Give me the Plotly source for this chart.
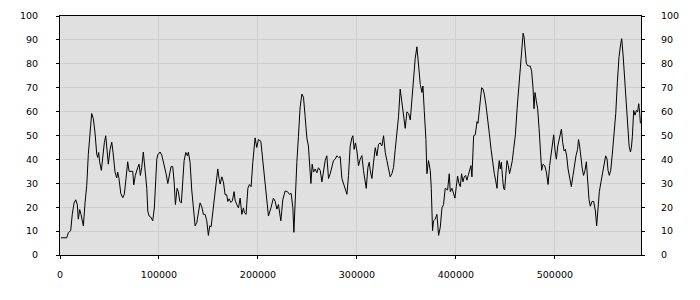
import plotly.graph_objects as go

x_vals = [
    1000, 6800, 8400, 10800, 12400, 14200, 15900, 17500, 18500, 19900, 21200, 23600, 25300, 27000, 28600,
    30300, 32000, 33700, 35400, 37100, 38100, 39100, 40100, 41800, 43200, 44800, 46200, 47500, 48800,
    50600, 52300, 53600, 55600, 57300, 58300, 59600, 61400, 63400, 65000, 66700, 68400, 69800, 73500,
    74500, 76100, 78600, 79900, 81200, 82600, 84200, 85900, 87700, 88700, 90000, 91700, 93700, 95300,
    96800, 97800, 98800, 101100, 102800, 105400, 107200, 108900, 110500, 112200, 113900, 115300, 116600,
    118300, 119600, 121000, 122600, 124000, 125400, 127100, 128700, 129700, 131400, 133100, 134800,
    136500, 138200, 139800, 141500, 143300, 144900, 146600, 148300, 149900, 151300, 152700, 154400,
    156000, 157700, 159400, 160700, 161800, 163500, 165100, 166800, 168500, 169500, 170900, 172600,
    174200, 175900, 176900, 178600, 180300, 182000, 183700, 185300, 186300, 188000, 189800, 191400,
    193100, 194800, 197100, 198800, 200500, 202900, 205000, 207300, 209000, 210600, 213100, 215600,
    217400, 219100, 220700, 223100, 225100, 227500, 229800, 231800, 233500, 235300, 236300, 237600,
    239300, 240900, 242600, 244400, 246000, 247700, 249400, 251000, 252800, 253500, 254800, 256100,
    257800, 259500, 261100, 262900, 264600, 266200, 267900, 269600, 271300, 273000, 274700, 276300,
    278000, 279700, 281400, 283100, 284800, 286500, 288100, 289900, 291500, 293200, 294900, 295900,
    297200, 298500, 300000, 301600, 303300, 305000, 306600, 308400, 309400, 311100, 312400, 313400,
    315100, 316800, 318500, 320200, 321800, 323500, 325200, 326900, 328600, 330300, 331900, 333600,
    335300, 337000, 338700, 340400, 342000, 343700, 345400, 347100, 348800, 350500, 352200, 353900,
    355600, 357300, 358900, 360600, 362300, 364000, 365700, 366700, 368000, 369700, 370700, 372300,
    374100, 375100, 376400, 377400, 379100, 380800, 382500, 384200, 385900, 387500, 389200, 391600,
    393300, 394300, 396000, 397600, 399000, 400400, 401700, 403100, 404400, 405700, 407100, 408400,
    409800, 411100, 412500, 413800, 415200, 416200, 417200, 417900, 419600, 421300, 422300, 423300,
    424600, 426000, 427400, 428700, 430400, 432000, 433700, 435500, 437100, 438800, 440100, 441500,
    442500, 443800, 444800, 445900, 447200, 448200, 449200, 450600, 451600, 452900, 454200, 455600,
    457000, 458300, 460100, 461800, 463400, 465100, 466900, 467900, 468900, 469800, 471100, 472500,
    475200, 476500, 477900, 478900, 479900, 481200, 482600, 484000, 485300, 486600, 488000, 489700,
    491400, 493100, 494700, 496400, 497800, 498800, 500200, 501500, 502900, 504200, 505500, 506600,
    507900, 509300, 510600, 511900, 513300, 514900, 516600, 518300, 519600, 521300, 522900, 523900,
    525000, 526400, 527700, 529000, 530400, 531800, 533100, 534500, 535800, 537500, 539200, 540900,
    542200, 543600, 544900, 546600, 548200, 549900, 551300, 552700, 553700, 555000, 556400, 558000,
    559700, 561500, 563100, 564800, 566500, 567500, 568900, 570300, 571900, 573300, 575000, 576300,
    577300, 578300, 579600, 581000, 582300, 583600, 584700, 585700, 586400,
]

y_vals = [
    7.2, 7.2, 9.3, 10.2, 17, 21.8, 23.1, 21, 15, 19, 17, 12.2, 21.8, 29, 42,
    51.7, 59.2, 57, 51, 42.2, 40.8, 42.9, 38.8, 35.4, 42.2, 47, 49.9, 42.2, 38,
    44.2, 47.2, 42.9, 34.7, 32.2, 34.7, 32, 25.8, 24, 25.4, 32, 39, 35, 35,
    29.3, 33.3, 36.7, 38, 33.3, 36.7, 43.1, 36.7, 27.9, 18.4, 16.3, 15.9, 14.3, 19.7,
    32, 40.1, 41.9, 43.1, 41.8, 37.4, 34, 29.9, 32.7, 37, 37, 30.6, 21.1,
    27.9, 26.5, 22.4, 21.8, 32.7, 39.5, 42.9, 41.5, 43, 38.8, 27.2, 18.4,
    12.2, 13.6, 17, 21.8, 20.1, 17, 17, 14.3, 8.2, 12.2, 11.8, 17.7,
    25.4, 29.9, 36, 32, 29.7, 32.7, 30.6, 25.2, 25.2, 22.4, 23.5, 22,
    22.7, 26.5, 23, 21.1, 19.7, 23.8, 17, 19.7, 17.7, 17, 27.9, 29.5,
    28.6, 38.8, 49, 45, 48.3, 47.6, 38.8, 29.3, 23.8, 16.3, 19.7, 23.8,
    22.4, 19.2, 21.1, 14.3, 23.1, 26.8, 26.5, 25.4, 25.8, 19.7, 9.5, 23.8,
    38.8, 49.7, 61.9, 67.3, 66, 57.8, 49, 45.6, 33.3, 29.9, 38, 34.7,
    36, 34.4, 36.5, 35.4, 30.6, 36, 39.5, 41.5, 32, 34, 37.4, 39.5,
    40.1, 41.5, 40.8, 41.2, 32, 29.9, 27.9, 25.4, 33.3, 45.6, 49, 49.9,
    44.2, 46.9, 43.5, 37.4, 40.1, 41.6, 35.4, 31.3, 27.9, 36.7, 38.8, 35.4,
    32, 38.8, 44.9, 41.5, 46.3, 46.9, 45.6, 49.9, 42.9, 39.5, 36, 32.7,
    34, 36.7, 44.2, 50.3, 57.8, 69.4, 63.3, 59.2, 53, 59.9, 59.2, 56.5,
    66, 74.8, 82.3, 87.1, 79.6, 71.4, 68, 70.7, 60.5, 48.3, 34, 39.5,
    35.4, 27.9, 10.2, 14.3, 15, 17, 8.2, 11.6, 19.7, 21.1, 27.9, 27.2,
    34, 26.5, 27.9, 25.8, 23.8, 28.6, 33, 29.9, 28.6, 34, 30.6, 32.7,
    33.3, 31.3, 33.3, 36, 37.4, 32.7, 40.1, 49.9, 50.3, 55.8, 55.1, 59.2,
    66, 70, 69.4, 67.3, 62.6, 55.8, 51, 44.2, 38, 34, 31.3, 27.9,
    34.7, 39.5, 36, 38.8, 32, 27.9, 27.2, 33.3, 39.5, 37.4, 34, 36.7,
    39.5, 44.2, 50.3, 61.2, 70, 80.9, 88.4, 92.8, 91.2, 86.4, 80.3, 79.2,
    79, 76.9, 70, 61.2, 68, 64.6, 61.2, 53, 44.9, 35.4, 38, 37.4,
    34.7, 29.5, 37.4, 42.2, 47, 50.3, 43.5, 40.1, 45.6, 48.3, 50.3, 52.7,
    47, 43.5, 44.2, 41.5, 36, 32, 28.6, 33.3, 37.4, 41.5, 44.2, 48.3,
    45.6, 40.1, 36, 33.3, 35.4, 39, 29.9, 23.1, 20.4, 22.4, 22.4, 18.4,
    12.2, 18.4, 26.5, 30.6, 34, 37.4, 41.5, 40.1, 35.4, 33.3, 35.4, 42.2,
    49, 59.2, 72.1, 83, 88.4, 90.5, 83.7, 74.8, 63.3, 54.4, 45.6, 43.1,
    44.9, 49.7, 60.5, 58.5, 60.5, 59.9, 63.3, 59.2, 55.1,
]

x_ticks = [0, 100000, 200000, 300000, 400000, 500000]
y_ticks = [0, 10, 20, 30, 40, 50, 60, 70, 80, 90, 100]

font = dict(family="DejaVu Sans", size=9.5, color="#000000")

fig = go.Figure()
fig.add_trace(go.Scatter(x=x_vals, y=y_vals, mode="lines",
                         line=dict(color="#000000", width=1), showlegend=False,
                         hoverinfo="skip"))
# invisible copies so the helper axes are drawn
for ax in ("y2", "y3", "y4"):
    fig.add_trace(go.Scatter(x=x_vals, y=y_vals, mode="lines", yaxis=ax,
                             line=dict(color="rgba(0,0,0,0)", width=0), showlegend=False,
                             hoverinfo="skip"))

fig.update_layout(
    width=700, height=300,
    margin=dict(l=60, r=59, t=10, b=45),
    paper_bgcolor="#ffffff", plot_bgcolor="#e0e0e0",
    xaxis=dict(range=[0, 587000], tickvals=x_ticks, ticktext=[str(v) for v in x_ticks],
               showline=True, linecolor="#000000", linewidth=1, mirror=True,
               ticks="outside", tickcolor="#000000", ticklen=3, ticklabelstandoff=8,
               gridcolor="#d0d0d0", zeroline=False, tickfont=font),
    # left labels (long white ticks push labels away from axis)
    yaxis=dict(range=[0, 100], tickvals=y_ticks, showline=True, linecolor="#000000",
               linewidth=1, ticks="outside", tickcolor="#ffffff", ticklen=19,
               gridcolor="#d0d0d0", zeroline=False, tickfont=font),
    # right labels
    yaxis2=dict(range=[0, 100], tickvals=y_ticks, overlaying="y", side="right",
                showline=True, linecolor="#000000", linewidth=1, ticks="outside",
                tickcolor="#ffffff", ticklen=17, showgrid=False, zeroline=False,
                tickfont=font),
    # short black tick marks, left
    yaxis3=dict(range=[0, 100], tickvals=y_ticks, overlaying="y", side="left",
                showline=False, ticks="outside", tickcolor="#000000", ticklen=3,
                showticklabels=False, showgrid=False, zeroline=False),
    # short black tick marks, right
    yaxis4=dict(range=[0, 100], tickvals=y_ticks, overlaying="y", side="right",
                showline=False, ticks="outside", tickcolor="#000000", ticklen=3,
                showticklabels=False, showgrid=False, zeroline=False),
)

fig.write_html("out.html")
